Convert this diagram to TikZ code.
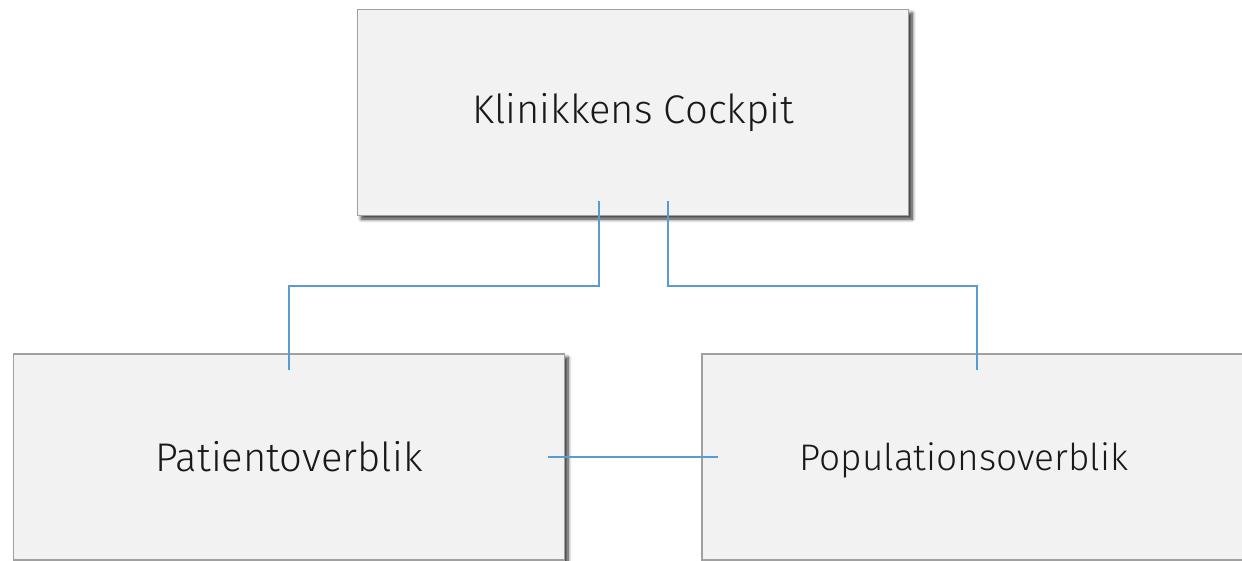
\documentclass[tikz,border=0pt]{standalone}
\usepackage{fontspec}
\setmainfont{Fira Sans}[UprightFont=* Light]
\usetikzlibrary{calc,shadows.blur}
\definecolor{boxfill}{HTML}{F2F2F2}
\definecolor{boxline}{HTML}{A0A0A0}
\definecolor{linkblue}{HTML}{5B9BD5}
\tikzset{
  card/.style={draw=boxline, line width=1.2pt, fill=boxfill, rectangle,
    minimum width=551pt, minimum height=206pt, inner sep=0pt,
    font=\fontsize{40}{48}\selectfont, text=black!90,
    blur shadow={shadow xshift=3.5pt, shadow yshift=-3.5pt, shadow blur radius=3.5pt, shadow blur steps=8, shadow opacity=80}},
  link/.style={draw=linkblue, line width=1.5pt}
}
\begin{document}
\begin{tikzpicture}[x=1pt,y=-1pt]
\useasboundingbox (0,0) rectangle (1242,560);
\clip (0,0) rectangle (1242,560);
\node[card] (kc) at (633.25,112.5) {Klinikkens Cockpit};
\node[card] (po) at (289,457) {Patientoverblik};
\node[card, minimum width=600pt,
  label={[font=\fontsize{37}{44}\selectfont, text=black!90, xshift=-38pt, yshift=-3pt]center:Populationsoverblik}] (pop) at (1002,457) {};
\draw[link] ($(kc.south)+(-34.25,-15)$) -- ++(0,85) -| ($(po.north)+(0,17)$);
\draw[link] ($(kc.south)+(34.75,-15)$) -- ++(0,85) -| ($(pop.north)+(-25,17)$);
\draw[link] ($(po.east)+(-17,0)$) -- ($(pop.west)+(17,0)$);
\end{tikzpicture}
\end{document}
